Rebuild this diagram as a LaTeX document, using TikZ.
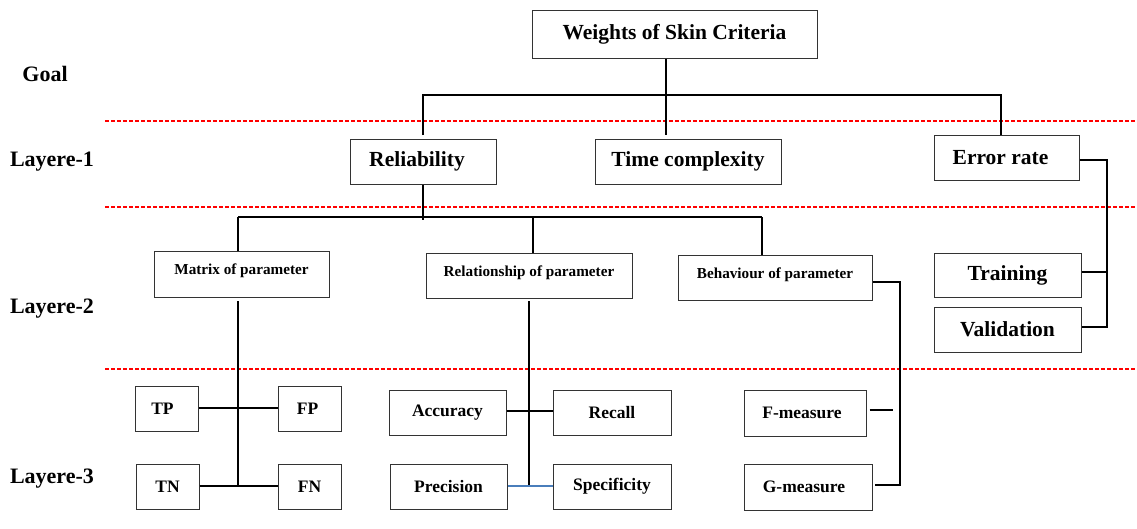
\documentclass[tikz,border=0pt]{standalone}
\usepackage{fontspec}
\setmainfont{Liberation Serif}
\begin{document}
\begin{tikzpicture}[x=1pt,y=-1pt,
  box/.style={draw=black!80, line width=1pt, font=\bfseries, inner sep=0pt},
  big/.style={box, font=\fontsize{21.5}{23}\selectfont\bfseries},
  mid/.style={box, font=\fontsize{17.5}{19}\selectfont\bfseries},
  small/.style={box, font=\fontsize{15.2}{17}\selectfont\bfseries, text depth=9pt},
  layer/.style={font=\fontsize{22}{24}\selectfont\bfseries},
  link/.style={draw=black, line width=1.2pt},
  sep/.style={draw=red, line width=1.8pt, dash pattern=on 4pt off 2pt}]
\useasboundingbox (0,0) rectangle (1137,528);

% layer separators
\coordinate (s1l) at (105,121); \coordinate (s1r) at (1137,121);
\coordinate (s2l) at (105,207); \coordinate (s2r) at (1137,207);
\coordinate (s3l) at (105,369); \coordinate (s3r) at (1137,369);
\draw[sep] (s1l) -- (s1r);
\draw[sep] (s2l) -- (s2r);
\draw[sep] (s3l) -- (s3r);

% layer labels
\node[layer] (lg) at (45,74) {Goal};
\node[layer] (l1) at (52,162) {Layere-1};
\node[layer] (l2) at (52,309) {Layere-2};
\node[layer] (l3) at (52,479) {Layere-3};

% goal
\node[big, minimum width=285pt, minimum height=48pt] (goal) at (674.5,34) {Weights of Skin Criteria};

% layer 1
\node[big, minimum width=146pt, minimum height=45pt] (rel) at (423,161.5) {\hspace*{-12pt}Reliability};
\node[big, minimum width=186pt, minimum height=45pt] (time) at (688,161.5) {Time complexity};
\node[big, minimum width=145pt, minimum height=45pt] (err) at (1006.5,157.5) {\hspace*{-12pt}Error rate};
\node[big, minimum width=147pt, minimum height=44pt] (train) at (1007.5,275) {Training};
\node[big, minimum width=147pt, minimum height=45pt] (valid) at (1007.5,329.5) {Validation};

% layer 2
\node[small, minimum width=175pt, minimum height=46pt] (mat) at (241.5,274) {Matrix of parameter};
\node[small, minimum width=206pt, minimum height=45pt] (rsp) at (529,275.5) {Relationship of parameter};
\node[small, minimum width=194pt, minimum height=45pt] (beh) at (775,277.5) {Behaviour of parameter};

% layer 3
\node[mid, minimum width=63pt, minimum height=45pt] (tp) at (166.5,408.5) {\hspace*{-8pt}TP};
\node[mid, minimum width=63pt, minimum height=45pt] (fp) at (309.5,408.5) {\hspace*{-4pt}FP};
\node[mid, minimum width=63pt, minimum height=45pt] (tn) at (167.5,486.5) {TN};
\node[mid, minimum width=63pt, minimum height=45pt] (fn) at (309.5,486.5) {FN};
\node[mid, minimum width=117pt, minimum height=45pt] (acc) at (447.5,412.5) {Accuracy};
\node[mid, minimum width=118pt, minimum height=45pt] (rec) at (612,412.5) {Recall};
\node[mid, minimum width=117pt, minimum height=45pt] (pre) at (448.5,486.5) {Precision};
\node[mid, minimum width=118pt, minimum height=45pt] (spe) at (612,486.5) {Specificity};
\node[mid, minimum width=122pt, minimum height=46pt] (fm) at (805,413) {\hspace*{-6pt}F-measure};
\node[mid, minimum width=128pt, minimum height=46pt] (gm) at (808,487) {\hspace*{-8pt}G-measure};

% goal to layer 1
\coordinate (gbar) at (666,95);
\draw[link] (goal.south -| gbar) -- (666,135);
\draw[link] (423,135) |- (1001,95) -- (err.north -| 1001,0);

% error rate to training / validation
\coordinate (ebus) at (1107,160);
\draw[link] (err.east |- ebus) -- (ebus) |- (valid.east |- 0,327);
\draw[link] (train.east |- 0,272) -- (1107,272);

% reliability to layer 2
\draw[link] (rel.south) -- (423,220);
\draw[link] (238,217) -- (762,217);
\draw[link] (238,217) -- (mat.north -| 238,0);
\draw[link] (533,217) -- (rsp.north -| 533,0);
\draw[link] (762,217) -- (beh.north -| 762,0);

% matrix of parameter
\draw[link] (238,301) -- (238,486);
\draw[link] (tp.east |- 0,408) -- (fp.west |- 0,408);
\draw[link] (tn.east |- 0,486) -- (fn.west |- 0,486);

% relationship of parameter
\draw[link] (529,301) -- (529,486);
\draw[link] (acc.east |- 0,411) -- (rec.west |- 0,411);
\draw[link, draw={rgb,255:red,74;green,126;blue,187}] (pre.east |- 0,486) -- (spe.west |- 0,486);

% behaviour of parameter
\coordinate (bbus) at (900,282);
\draw[link] (beh.east |- bbus) -- (bbus) -- (900,485) -- ([xshift=2pt]gm.east |- 0,485);
\draw[link] ([xshift=3pt]fm.east |- 0,410) -- (893,410);
\end{tikzpicture}
\end{document}
